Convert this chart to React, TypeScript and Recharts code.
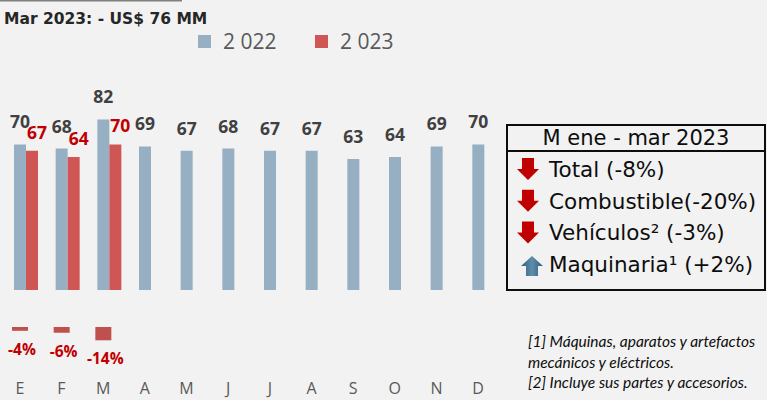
import { BarChart, Bar, XAxis, YAxis, LabelList } from 'recharts'

const MONTHS = ['E', 'F', 'M', 'A', 'M', 'J', 'J', 'A', 'S', 'O', 'N', 'D']
const IMPORTS_2022 = [70, 68, 82, 69, 67, 68, 67, 67, 63, 64, 69, 70]
const IMPORTS_2023 = [67, 64, 70, null, null, null, null, null, null, null, null, null]
const VAR_PCT = [-4, -6, -14, null, null, null, null, null, null, null, null, null]

const SUMMARY_TITLE = 'M ene - mar 2023'
const SUMMARY_ROWS = [
  { label: 'Total (-8%)', up: false },
  { label: 'Combustible(-20%)', up: false },
  { label: 'Vehículos² (-3%)', up: false },
  { label: 'Maquinaria¹ (+2%)', up: true },
]
const NOTES = [
  '[1] Máquinas, aparatos y artefactos',
  'mecánicos y eléctricos.',
  '[2] Incluye sus partes y accesorios.',
]

const C2022 = '#96afc2'
const C2023 = '#d05656'
const CVAR = '#c0504d'
const RED_TXT = '#c00000'

const data = MONTHS.map((month, i) => ({ month, y2022: IMPORTS_2022[i], y2023: IMPORTS_2023[i] }))
const varData = MONTHS.map((month, i) => ({ month, pct: VAR_PCT[i] }))

const label2022 = (p: any) =>
  p.value == null ? null : (
    <text x={p.x + p.width / 2} y={p.y - 16} textAnchor="middle" fill="#404040"
      fontSize={17.5} fontWeight={700} fontFamily="Open Sans">{p.value}</text>
  )

const label2023 = (p: any) =>
  p.value == null ? null : (
    <text x={p.x + p.width / 2 + 5} y={p.y - 12} textAnchor="middle" fill={RED_TXT}
      fontSize={17.5} fontWeight={700} fontFamily="Open Sans">{p.value}</text>
  )

const labelVar = (p: any) => {
  if (p.value == null) return null
  const bottom = Math.max(p.y, p.y + p.height)
  return (
    <text x={p.x + p.width / 2 + 2} y={bottom + 24} textAnchor="middle" fill={RED_TXT}
      fontSize={15.5} fontWeight={700} fontFamily="Open Sans">{p.value}%</text>
  )
}

function Arrow({ x, y, up }: { x: number; y: number; up: boolean }) {
  const d = up
    ? `M${x + 5} ${y + 20} L${x + 17} ${y + 20} L${x + 17} ${y + 10} L${x + 22} ${y + 10} L${x + 11} ${y} L${x} ${y + 10} L${x + 5} ${y + 10} Z`
    : `M${x + 5} ${y} L${x + 17} ${y} L${x + 17} ${y + 11} L${x + 22} ${y + 11} L${x + 11} ${y + 22} L${x} ${y + 11} L${x + 5} ${y + 11} Z`
  return <path d={d} fill={up ? 'url(#upGrad)' : '#c00000'} />
}

export default function App() {
  return (
    <div style={{ position: 'absolute', left: 0, top: 0, width: 767, height: 400, background: '#f2f2f2', overflow: 'hidden' }}>
      <div style={{ position: 'absolute', left: -1, top: 0 }}>
        <BarChart width={500} height={290} data={data} barGap={0} barSize={12}
          margin={{ top: 82, right: 0, left: 0, bottom: 0 }}>
          <XAxis dataKey="month" hide />
          <YAxis hide domain={[0, 100]} />
          <Bar dataKey="spacer" fill="none" isAnimationActive={false} />
          <Bar dataKey="y2022" fill={C2022} isAnimationActive={false}>
            <LabelList dataKey="y2022" content={label2022} />
          </Bar>
          <Bar dataKey="y2023" fill={C2023} isAnimationActive={false}>
            <LabelList dataKey="y2023" content={label2023} />
          </Bar>
        </BarChart>
      </div>

      <div style={{ position: 'absolute', left: -1, top: 300 }}>
        <BarChart width={500} height={100} data={varData} barSize={16}
          margin={{ top: 27, right: 0, left: 0, bottom: 0 }}>
          <XAxis dataKey="month" axisLine={false} tickLine={false} tickSize={0} tickMargin={18}
            interval={0} height={35}
            tick={{ fontSize: 16, fill: '#595959', fontFamily: 'Open Sans' }} />
          <YAxis hide domain={[-40, 0]} />
          <Bar dataKey="pct" fill={CVAR} isAnimationActive={false}>
            <LabelList dataKey="pct" content={labelVar} />
          </Bar>
        </BarChart>
      </div>

      <svg width={767} height={400} style={{ position: 'absolute', left: 0, top: 0, pointerEvents: 'none' }}>
        <defs>
          <linearGradient id="upGrad" x1="0" x2="1" y1="0" y2="0">
            <stop offset="0" stopColor="#2f5d7c" />
            <stop offset="0.5" stopColor="#5f8dab" />
            <stop offset="1" stopColor="#2f5d7c" />
          </linearGradient>
        </defs>
        <rect x={0} y={0} width={182} height={1.5} fill="#808080" />
        <text x={4} y={24} fontFamily="DejaVu Sans" fontWeight={700} fontSize={15.5} fill="#262626">
          Mar 2023: - US$ 76 MM
        </text>

        <rect x={198} y={35} width={13} height={13} fill={C2022} />
        <text x={223} y={49} fontFamily="Open Sans" fontSize={21} fill="#595959">2 022</text>
        <rect x={315} y={35} width={13} height={13} fill={C2023} />
        <text x={340} y={49} fontFamily="Open Sans" fontSize={21} fill="#595959">2 023</text>

        <rect x={507} y={125} width={258} height={165} fill="none" stroke="#0d0d0d" strokeWidth={2} />
        <line x1={507} x2={765} y1={151} y2={151} stroke="#0d0d0d" strokeWidth={2} />
        <text x={636} y={145} textAnchor="middle" fontFamily="DejaVu Sans" fontSize={21} fill="#0d0d0d">
          {SUMMARY_TITLE}
        </text>
        {SUMMARY_ROWS.map((r, i) => {
          const base = 177 + i * 31.7
          return (
            <g key={r.label}>
              <Arrow x={r.up ? 521 : 517} y={base - (r.up ? 16 : 19)} up={r.up} />
              <text x={549} y={base} fontFamily="DejaVu Sans" fontSize={21.5} fill="#0d0d0d">{r.label}</text>
            </g>
          )
        })}

        {NOTES.map((n, i) => (
          <text key={n} x={528} y={347 + i * 20.5} fontFamily="Lato" fontStyle="italic" fontSize={15.5} fill="#0d0d0d">
            {n}
          </text>
        ))}
      </svg>
    </div>
  )
}
